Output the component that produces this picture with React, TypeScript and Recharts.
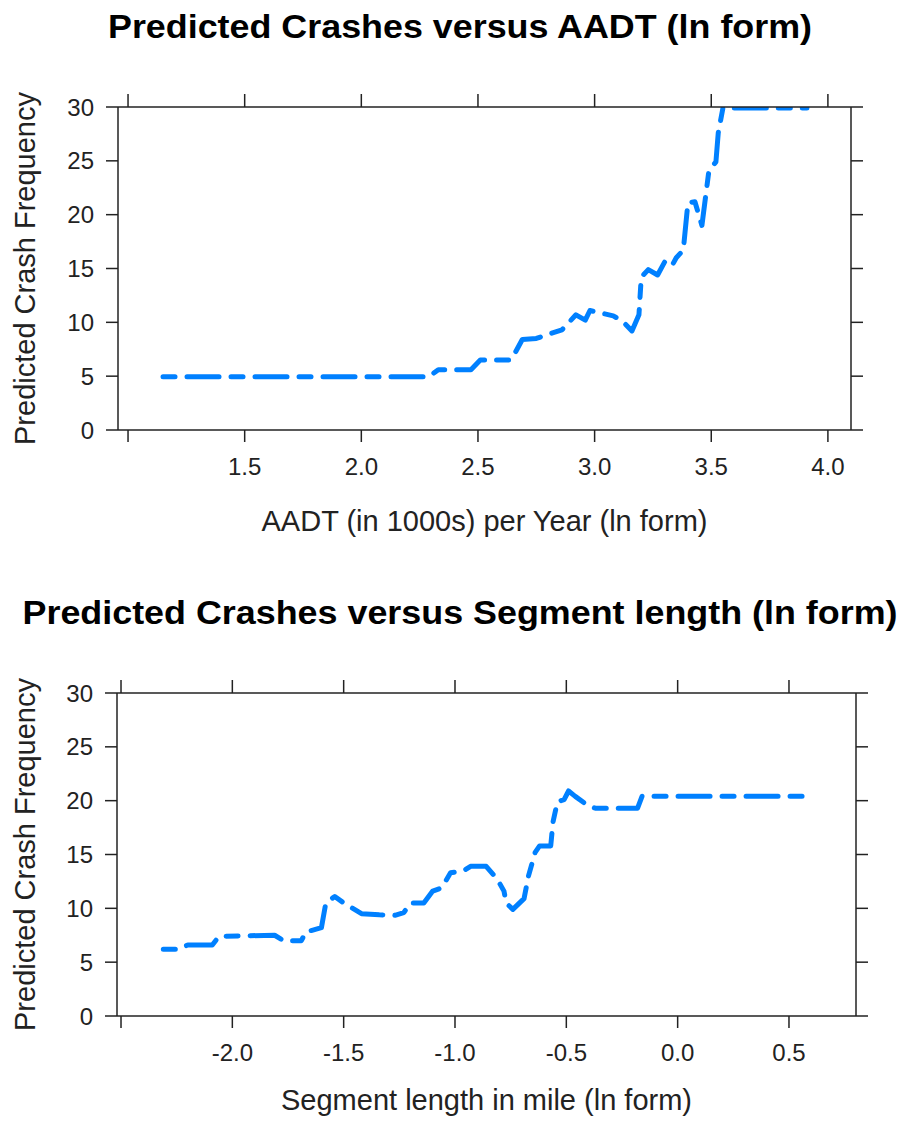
import React from "react";
import { LineChart, Line, XAxis, YAxis, Label } from "recharts";

// ln(AADT in 1000s) vs predicted crash frequency
const aadtLn = [
  1.15, 2.29, 2.33, 2.47, 2.51, 2.64, 2.66, 2.69, 2.75, 2.79, 2.86, 2.92, 2.96,
  2.98, 3.08, 3.12, 3.16, 3.19, 3.2, 3.23, 3.27, 3.3, 3.33, 3.35, 3.38, 3.4,
  3.43, 3.46, 3.49, 3.52, 3.53, 3.55, 3.91,
];
const aadtPred = [
  4.95, 4.95, 5.6, 5.6, 6.5, 6.5, 7.2, 8.4, 8.5, 8.8, 9.3, 10.7, 10.2, 11.1,
  10.6, 10.1, 9.2, 10.7, 14.2, 14.9, 14.4, 15.6, 15.2, 16.0, 16.7, 21.1, 21.2,
  19.0, 24.1, 24.9, 27.6, 29.9, 29.9,
];

// ln(segment length in miles) vs predicted crash frequency
const segLn = [
  -2.31, -2.24, -2.2, -2.09, -2.06, -1.81, -1.77, -1.69, -1.67, -1.6, -1.58,
  -1.54, -1.5, -1.42, -1.34, -1.27, -1.23, -1.2, -1.14, -1.1, -1.06, -1.02,
  -0.96, -0.93, -0.86, -0.81, -0.78, -0.77, -0.74, -0.69, -0.67, -0.64, -0.62,
  -0.57, -0.56, -0.54, -0.51, -0.49, -0.46, -0.4, -0.37, -0.18, -0.16, 0.6,
];
const segPred = [
  6.2, 6.2, 6.6, 6.6, 7.4, 7.5, 7.0, 7.0, 7.8, 8.2, 10.5, 11.1, 10.5, 9.5, 9.4,
  9.35, 9.6, 10.5, 10.5, 11.6, 11.9, 13.3, 13.5, 13.9, 13.9, 12.7, 11.6, 10.5,
  9.9, 10.9, 13.0, 15.2, 15.8, 15.8, 18.0, 19.9, 20.1, 20.9, 20.4, 19.5, 19.3,
  19.3, 20.4, 20.4,
];

const yTicks = [0, 5, 10, 15, 20, 25, 30];
const aadtTicks = [1.0, 1.5, 2.0, 2.5, 3.0, 3.5, 4.0];
const segTicks = [-2.5, -2.0, -1.5, -1.0, -0.5, 0.0, 0.5];

const FONT = "'Liberation Sans', Arial, sans-serif";
const AXIS = "#222";
const TEXT = "#222";
const axisStroke = { stroke: AXIS, strokeWidth: 1.5 };

// tick marks only, no labels (for the top and right sides of the box)
const NoLabel = () => <g />;

interface PanelProps {
  top: number;
  height: number;
  title: string;
  titleWidth: number;
  xLabel: string;
  xs: number[];
  ys: number[];
  xTicks: number[];
  xDomain: [number, number];
  hiddenTick: number;
  yAxisWidth: number;
  rightMargin: number;
  xAxisHeight: number;
}

function Panel(p: PanelProps) {
  const data = p.xs.map((x, i) => ({ x, y: p.ys[i] }));
  const fmt = (v: number) => (v === p.hiddenTick ? "" : v.toFixed(1));
  const tickStyle = { fontSize: 24, fill: TEXT, fontFamily: FONT };
  return (
    <div style={{ position: "absolute", left: 0, top: p.top, width: 901, height: p.height }}>
      <svg width={901} height={60} style={{ position: "absolute", left: 0, top: 0 }}>
        <text
          x={460}
          y={38}
          textAnchor="middle"
          fontFamily={FONT}
          fontWeight="bold"
          fontSize={33}
          fill="#000"
          textLength={p.titleWidth}
          lengthAdjust="spacingAndGlyphs"
        >
          {p.title}
        </text>
      </svg>
      <div style={{ position: "absolute", left: 0, top: 0 }}>
        <LineChart
          width={901}
          height={p.height}
          data={data}
          margin={{ top: 106, right: p.rightMargin - 1, left: 0, bottom: p.height - 107 - 323 - p.xAxisHeight }}
        >
          <XAxis
            dataKey="x"
            type="number"
            domain={p.xDomain}
            ticks={p.xTicks}
            allowDataOverflow
            tickFormatter={fmt}
            tickSize={12}
            tickMargin={16}
            height={p.xAxisHeight}
            axisLine={axisStroke}
            tickLine={axisStroke}
            tick={tickStyle}
          >
            <Label
              value={p.xLabel}
              position="center"
              dy={36}
              style={{ fontSize: 29, fill: TEXT, fontFamily: FONT }}
            />
          </XAxis>
          <XAxis
            xAxisId="top"
            dataKey="x"
            type="number"
            orientation="top"
            domain={p.xDomain}
            ticks={p.xTicks}
            allowDataOverflow
            tick={NoLabel}
            tickSize={13}
            height={1}
            axisLine={axisStroke}
            tickLine={axisStroke}
          />
          <YAxis
            type="number"
            domain={[0, 30]}
            ticks={yTicks}
            allowDataOverflow
            tickSize={12}
            tickMargin={12}
            width={p.yAxisWidth}
            axisLine={axisStroke}
            tickLine={axisStroke}
            tick={tickStyle}
          >
            <Label
              value="Predicted Crash Frequency"
              angle={-90}
              position="center"
              dx={25 - p.yAxisWidth / 2}
              style={{ fontSize: 29, fill: TEXT, fontFamily: FONT, textAnchor: "middle" }}
            />
          </YAxis>
          <YAxis
            yAxisId="right"
            orientation="right"
            type="number"
            domain={[0, 30]}
            ticks={yTicks}
            allowDataOverflow
            tick={NoLabel}
            tickSize={12}
            width={1}
            axisLine={axisStroke}
            tickLine={axisStroke}
          />
          <Line
            type="linear"
            dataKey="y"
            stroke="#0080ff"
            strokeWidth={5}
            strokeDasharray="12 12 32 12"
            strokeLinecap="round"
            strokeLinejoin="round"
            dot={false}
            isAnimationActive={false}
          />
          {/* invisible series so the top/right box axes get drawn */}
          <Line
            xAxisId="top"
            yAxisId="right"
            dataKey="y"
            stroke="none"
            dot={false}
            activeDot={false}
            legendType="none"
            isAnimationActive={false}
          />
        </LineChart>
      </div>
    </div>
  );
}

export default function App() {
  return (
    <div style={{ position: "absolute", left: 0, top: 0, width: 901, height: 1122, background: "#fff" }}>
      <Panel
        top={0}
        height={560}
        title="Predicted Crashes versus AADT (ln form)"
        titleWidth={704}
        xLabel="AADT (in 1000s) per Year (ln form)"
        xs={aadtLn}
        ys={aadtPred}
        xTicks={aadtTicks}
        xDomain={[0.957, 4.099]}
        hiddenTick={1.0}
        yAxisWidth={118}
        rightMargin={50}
        xAxisHeight={110}
      />
      <Panel
        top={586}
        height={536}
        title="Predicted Crashes versus Segment length (ln form)"
        titleWidth={875}
        xLabel="Segment length in mile (ln form)"
        xs={segLn}
        ys={segPred}
        xTicks={segTicks}
        xDomain={[-2.518, 0.801]}
        hiddenTick={-2.5}
        yAxisWidth={117}
        rightMargin={45}
        xAxisHeight={95}
      />
    </div>
  );
}
